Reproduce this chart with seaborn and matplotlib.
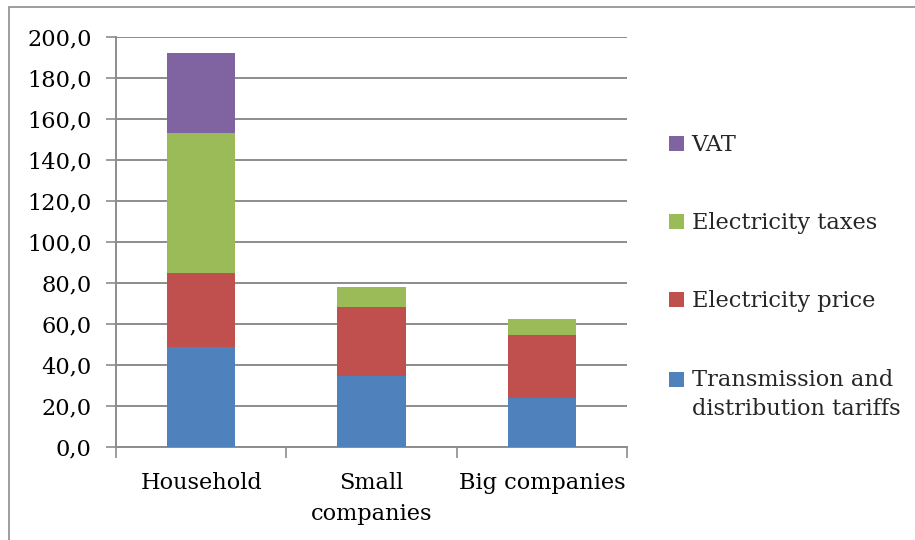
import matplotlib
matplotlib.use("Agg")
import matplotlib.pyplot as plt
import seaborn as sns
import pandas as pd
import numpy as np
from matplotlib.patches import Rectangle
from matplotlib.legend_handler import HandlerPatch
from matplotlib.ticker import FuncFormatter, FixedLocator

categories = ["Household", "Small\ncompanies", "Big companies"]
transmission = [48.9, 34.8, 24.1]
price = [36.1, 33.7, 30.4]
taxes = [68.3, 9.7, 8.1]
vat = [39.1, 0.0, 0.0]

series_names = ["Transmission and\ndistribution tariffs", "Electricity price",
                "Electricity taxes", "VAT"]
series_values = [transmission, price, taxes, vat]
colors = ["#4F81BD", "#C0504D", "#9BBB59", "#8064A2"]

sns.set_theme(style="white")
plt.rcParams["font.family"] = ["DejaVu Serif"]
FS = 16.2

fig = plt.figure(figsize=(9.15, 5.4), dpi=100)
ax = fig.add_axes([116/915, 1 - 447/540, (627-116)/915, (447-37)/540])

# cumulative stacking, draw tallest first
cum = np.cumsum(np.array(series_values), axis=0)
for i in range(len(series_values) - 1, -1, -1):
    df = pd.DataFrame({"cat": categories, "val": cum[i]})
    sns.barplot(data=df, x="cat", y="val", color=colors[i], width=0.40,
                ax=ax, saturation=1, edgecolor="none", linewidth=0, zorder=3)

ax.set_ylim(0, 200)
ax.set_xlim(-0.5, 2.5)
ax.set_yticks(np.arange(0, 201, 20))
ax.yaxis.set_major_formatter(FuncFormatter(lambda v, p: f"{v:.1f}".replace(".", ",")))
ax.grid(axis="y", color="#8C8C8C", linewidth=1.4, zorder=0)
ax.grid(axis="x", visible=False)
ax.set_axisbelow(True)
ax.set_xlabel("")
ax.set_ylabel("")

for s in ["top", "right"]:
    ax.spines[s].set_visible(False)
for s in ["left", "bottom"]:
    ax.spines[s].set_color("#8C8C8C")
    ax.spines[s].set_linewidth(1.4)

ax.tick_params(axis="y", which="major", left=True, length=7, width=1.2,
               color="#8C8C8C", direction="out", labelsize=FS, pad=10.5,
               labelcolor="black")
ax.tick_params(axis="x", which="major", bottom=False, labelsize=FS, pad=12,
               labelcolor="black")
ax.xaxis.set_minor_locator(FixedLocator([-0.5, 0.5, 1.5, 2.5]))
ax.tick_params(axis="x", which="minor", bottom=True, length=8, width=1.2,
               color="#8C8C8C", direction="out")
for lab in ax.get_xticklabels():
    lab.set_verticalalignment("top")
    lab.set_linespacing(1.55)


# legend: square of the two-line entry aligned with its first line
def top_aligned(legend, orig_handle, xdescent, ydescent, width, height, fontsize):
    return Rectangle((-xdescent, -ydescent + fontsize * 0.68), width, height)


handles = [Rectangle((0, 0), 1, 1, facecolor=colors[i], edgecolor="none")
           for i in range(len(series_names) - 1, -1, -1)]
labels = [series_names[i] for i in range(len(series_names) - 1, -1, -1)]
leg = fig.legend(handles, labels, loc="upper left", bbox_to_anchor=(660/915, 1 - 125/540),
                 frameon=False, fontsize=FS, handlelength=0.65, handleheight=0.65,
                 handletextpad=0.35, labelspacing=2.5, borderaxespad=0,
                 handler_map={handles[-1]: HandlerPatch(patch_func=top_aligned)})
for t in leg.get_texts():
    t.set_linespacing(1.4)

# outer border (only top and left visible in the frame)
fig.patches.append(Rectangle((9/915, -0.05), 1.0, 1.05 - 7/540, transform=fig.transFigure,
                             fill=False, edgecolor="#8C8C8C", linewidth=1.2))

fig.savefig("out.png", dpi=100)
